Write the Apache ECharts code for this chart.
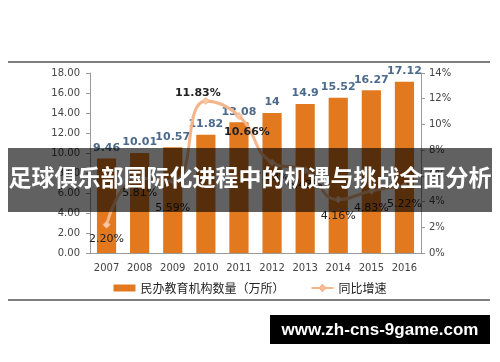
<!DOCTYPE html>
<html><head><meta charset="utf-8">
<script src="https://cdn.jsdelivr.net/npm/echarts@6/dist/echarts.min.js"></script>
<style>html,body{margin:0;padding:0;background:#fff;}#c{width:500px;height:362px;}</style>
</head><body><div id="c"></div>
<script>
var years = ['2007','2008','2009','2010','2011','2012','2013','2014','2015','2016'];
var institutions = [9.46, 10.01, 10.57, 11.82, 13.08, 14, 14.9, 15.52, 16.27, 17.12];
var growth = [2.20, 5.81, 5.59, 11.83, 10.66, 7.03, 6.43, 4.16, 4.83, 5.22];
var leftTicks = [0, 18, 2];
var rightTicks = [0, 14, 2];
var barName = '民办教育机构数量（万所）';
var lineName = '同比增速';
var titleText = '足球俱乐部国际化进程中的机遇与挑战全面分析';
var siteText = 'www.zh-cns-9game.com';

var labelCfg = [
  {position:'bottom', offset:[0,0], bold:false},
  {position:'bottom', offset:[0,0], bold:false},
  {position:'bottom', offset:[0,13], bold:false},
  {position:'top', offset:[-8,7], bold:true},
  {position:'bottom', offset:[8,2], bold:true},
  {position:'bottom', offset:[0,0], bold:false},
  {position:'bottom', offset:[0,0], bold:false},
  {position:'bottom', offset:[0,2], bold:false},
  {position:'bottom', offset:[0,3], bold:false},
  {position:'bottom', offset:[0,4], bold:false}
];
var lineData = growth.map(function(v,i){
  return {value:v, label:{position:labelCfg[i].position, offset:labelCfg[i].offset,
    fontWeight:labelCfg[i].bold ? 'bold' : 'normal'}};
});

var chart = echarts.init(document.getElementById('c'));
chart.setOption({
  animation:false,
  grid:{left:90, right:79, top:73, bottom:109},
  legend:{
    bottom:63, left:'center', itemGap:26, itemWidth:22, itemHeight:7,
    textStyle:{fontFamily:'Noto Sans CJK SC', fontSize:12, color:'#222'},
    data:[{name:barName, icon:'rect'},{name:lineName}]
  },
  xAxis:{
    type:'category', data:years,
    axisLine:{lineStyle:{color:'#9a9a9a'}},
    axisTick:{show:false},
    axisLabel:{color:'#444', fontFamily:'DejaVu Sans', fontSize:10, margin:10}
  },
  yAxis:[{
    type:'value', min:leftTicks[0], max:leftTicks[1], interval:leftTicks[2],
    axisLine:{show:true, lineStyle:{color:'#9a9a9a'}},
    axisTick:{show:true, inside:false, length:4, lineStyle:{color:'#9a9a9a'}},
    splitLine:{show:false},
    axisLabel:{color:'#444', fontFamily:'DejaVu Sans', fontSize:10, margin:10,
      formatter:function(v){return v.toFixed(2);}}
  },{
    type:'value', min:rightTicks[0], max:rightTicks[1], interval:rightTicks[2],
    axisLine:{show:true, lineStyle:{color:'#9a9a9a'}},
    axisTick:{show:true, length:4, lineStyle:{color:'#9a9a9a'}},
    splitLine:{show:false},
    axisLabel:{color:'#444', fontFamily:'DejaVu Sans', fontSize:10, margin:8,
      formatter:function(v){return v+'%';}}
  }],
  series:[{
    name:barName, type:'bar', data:institutions, barWidth:'58%',
    itemStyle:{color:'#E2791F'},
    label:{show:true, position:'top', distance:5, color:'#4C6A8C',
      fontFamily:'DejaVu Sans', fontSize:11, fontWeight:'bold'}
  },{
    name:lineName, type:'line', yAxisIndex:1, data:lineData, smooth:0.5,
    symbol:'diamond', symbolSize:7,
    lineStyle:{color:'#F4B58A', width:3},
    itemStyle:{color:'#F7C9A6', borderColor:'#F4B58A', borderWidth:1},
    label:{show:true, color:'#222', fontFamily:'DejaVu Sans', fontSize:11,
      formatter:function(p){return p.value.toFixed(2)+'%';}}
  }],
  graphic:[
    {type:'line', shape:{x1:8, y1:62, x2:490, y2:62}, style:{stroke:'#555', lineWidth:1.5}},
    {type:'line', shape:{x1:8, y1:300, x2:490, y2:300}, style:{stroke:'#555', lineWidth:1.5}},
    {type:'rect', shape:{x:8, y:148, width:484, height:64}, style:{fill:'rgba(0,0,0,0.62)'}, z:100},
    {type:'text', left:'center', top:166, z:101,
      style:{text:titleText, fill:'#fff', font:'bold 23px "Noto Sans CJK SC"'}},
    {type:'rect', shape:{x:270, y:315, width:220, height:29}, style:{fill:'#000'}, z:100},
    {type:'text', x:380, y:330, z:101,
      style:{text:siteText, fill:'#fff', font:'bold 17px "Liberation Sans"', textAlign:'center', textVerticalAlign:'middle'}}
  ]
});
</script></body></html>
